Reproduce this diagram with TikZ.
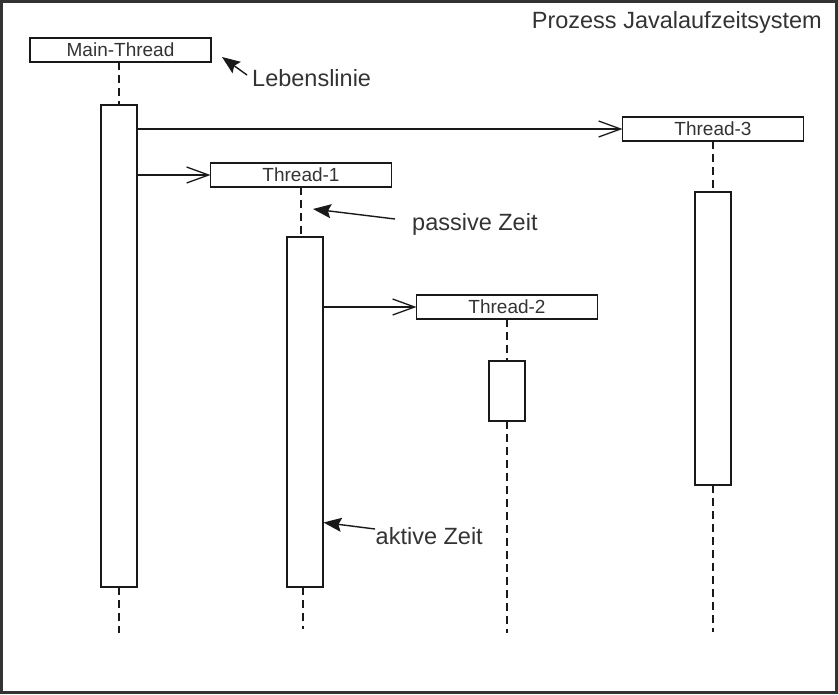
\documentclass[tikz,border=0pt]{standalone}
\usepackage{fontspec}
\setmainfont{Liberation Sans}
\usetikzlibrary{arrows.meta}
\begin{document}
\begin{tikzpicture}[x=1pt,y=-1pt,
  hdr/.style={draw=black!90, line width=1.3pt, fill=white, inner sep=0pt, outer sep=0pt,
    minimum width=181pt, minimum height=24pt, font=\fontsize{19}{19}\selectfont, text=black!80},
  act/.style={draw=black!90, line width=1.3pt, fill=white, inner sep=0pt, outer sep=0pt, minimum width=36pt},
  life/.style={draw=black!90, line width=1.3pt, dash pattern=on 8pt off 5pt},
  msg/.style={draw=black!90, line width=1.3pt, -{Straight Barb[length=22pt,width=16pt,line width=1.3pt]}},
  note/.style={draw=black!90, line width=1.4pt, -{Stealth[length=18pt,width=14pt,inset=3pt]}},
  lbl/.style={font=\fontsize{23.5}{24}\selectfont, text=black!80, inner sep=0pt}
]
\useasboundingbox (0,0) rectangle (838,694);
\draw[line width=2.6pt, draw=black!80] (1.3,1.3) rectangle (836.7,692.7);

\node[lbl, anchor=base east] (title) at (822,28) {Prozess Javalaufzeitsystem};

% headers
\node[hdr] (mt) at (120.5,50) {Main-Thread};
\node[hdr] (t1) at (301,175) {Thread-1};
\node[hdr] (t2) at (507,307) {Thread-2};
\node[hdr] (t3) at (713,129) {Thread-3};

% activations
\node[act, minimum height=482pt] (ma) at (119,346) {};
\node[act, minimum height=350pt] (a1) at (305,412) {};
\node[act, minimum height=60pt] (a2) at (507,391) {};
\node[act, minimum height=293pt] (a3) at (713,338.5) {};

% lifeline ends
\coordinate (me) at (119,633);
\coordinate (e1) at (303,629);
\coordinate (e2) at (507,633);
\coordinate (e3) at (713,632);

\draw[life] (mt.south -| ma.north) -- (ma.north);
\draw[life] (ma.south) -- (me);
\draw[life] (t1.south) -- (t1.south |- a1.north);
\draw[life] (a1.south -| e1) -- (e1);
\draw[life] (t2.south) -- (a2.north);
\draw[life] (a2.south) -- (e2);
\draw[life] (t3.south) -- (a3.north);
\draw[life] (a3.south) -- (e3);

% messages
\draw[msg] (ma.east |- t3.west) -- (t3.west);
\draw[msg] (ma.east |- t1.west) -- (t1.west);
\draw[msg] (a1.east |- t2.west) -- (t2.west);

% annotations
\node[lbl, anchor=base west] (ll) at (252,86) {Lebenslinie};
\node[lbl, anchor=base west] (pz) at (412,230.5) {passive Zeit};
\node[lbl, anchor=base west] (az) at (375.5,544) {aktive Zeit};
\coordinate (llt) at (247,75);
\coordinate (llh) at (222,57);
\coordinate (pzt) at (395,219);
\coordinate (pzh) at (313,209);
\coordinate (azt) at (375,529);
\coordinate (azh) at (323.5,522.5);
\draw[note] (llt) -- (llh);
\draw[note] (pzt) -- (pzh);
\draw[note] (azt) -- (azh);
\end{tikzpicture}
\end{document}
